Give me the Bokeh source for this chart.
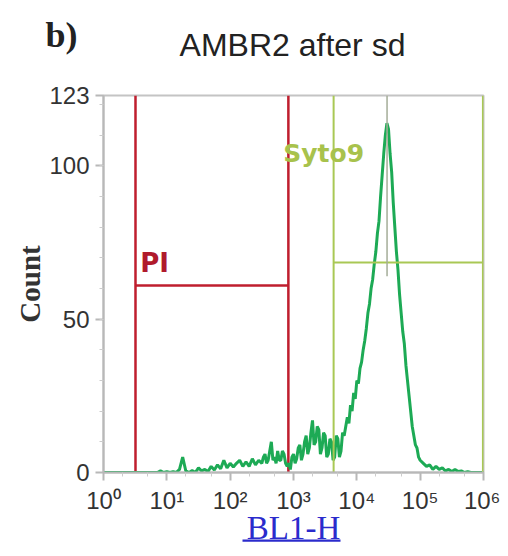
from bokeh.plotting import figure
from bokeh.models import (FixedTicker, CustomJSTickFormatter, Label, Range1d)
from bokeh.embed import file_html
from bokeh.resources import INLINE

# ---- data ----
# histogram channel positions in decades (log10 of BL1-H) and counts
log_bl1h = [0.00, 0.50, 0.85, 0.90, 0.95, 1.00, 1.05, 1.10, 1.15, 1.20, 1.25, 1.30, 1.35,
            1.40, 1.45, 1.50, 1.55, 1.60, 1.65, 1.70, 1.75, 1.80, 1.85, 1.90, 1.95,
            2.00, 2.05, 2.10, 2.15, 2.20, 2.25, 2.30, 2.35, 2.40, 2.45,
            2.500, 2.525, 2.550, 2.575, 2.600, 2.625, 2.650, 2.675, 2.700, 2.725,
            2.750, 2.775, 2.800, 2.825, 2.850, 2.875, 2.900, 2.925, 2.950, 2.975,
            3.000, 3.025, 3.050, 3.075, 3.100, 3.125, 3.150, 3.175, 3.200, 3.225,
            3.250, 3.275, 3.300, 3.325, 3.350, 3.375, 3.400, 3.425, 3.450, 3.475,
            3.500, 3.525, 3.550, 3.575, 3.600, 3.625, 3.650, 3.675, 3.700, 3.725,
            3.750, 3.775, 3.800, 3.825, 3.850, 3.875, 3.900, 3.925, 3.950, 3.975,
            4.000, 4.025, 4.050, 4.075, 4.100, 4.125, 4.150, 4.175, 4.200, 4.225,
            4.250, 4.275, 4.300, 4.325, 4.350, 4.375, 4.400, 4.425, 4.450, 4.475,
            4.500, 4.525, 4.550, 4.575, 4.600, 4.625, 4.650, 4.675, 4.700, 4.725,
            4.750, 4.775, 4.800, 4.825, 4.850, 4.875, 4.900, 4.925, 4.950, 4.975,
            5.00, 5.05, 5.10, 5.15, 5.20, 5.25, 5.30, 5.35, 5.40, 5.45, 5.50, 5.55,
            5.60, 5.65, 5.70, 5.75, 5.80, 5.90, 6.00]
counts = [0, 0, 0, 0.5, 0, 0.3, 0, 0.3, 0, 1, 5, 0.5, 0,
          0.6, 0, 1.5, 0.5, 1, 0.3, 2, 0.8, 2.5, 1.2, 4, 1.5,
          3, 1.8, 3, 4, 2, 3.5, 2, 4.5, 2.5, 4,
          3, 5, 6, 3, 4, 7, 10, 4, 5, 3,
          7, 4, 4, 7, 6, 3, 2, 3, 1, 5,
          6, 3, 4.5, 8, 9, 4, 6, 10, 12, 6,
          8, 13, 17, 9, 10, 15, 14, 6, 8, 13,
          12, 5, 6, 11, 10, 4, 5, 12, 11, 5,
          7, 13, 12, 15, 18, 16, 22, 20, 26, 24,
          30, 29, 34, 36, 40, 43, 47, 52, 55, 60,
          63, 68, 72, 78, 82, 90, 97, 104, 110, 114,
          112, 104, 98, 88, 80, 72, 66, 58, 52, 46,
          42, 35, 30, 25, 20, 15, 12, 9, 8, 5,
          4, 3, 2, 2.5, 1, 2, 1, 1.5, 0.5, 1, 0.3, 1,
          0.3, 0.5, 0, 0.3, 0, 0, 0]

# gates: (low BL1-H, high BL1-H, marker height in counts)
pi_gate = (3.2, 830, 61)
syto9_gate = (4300, 980000, 68.5)
syto9_marker_x = 30000
syto9_marker_low = 64

x_decades = [0, 1, 2, 3, 4, 5, 6]
y_ticks = [0, 50, 100, 123]

title_text = "AMBR2 after sd"
panel_letter = "b)"

bl1h = [10 ** v for v in log_bl1h]

p = figure(width=500, height=548, x_axis_type="log",
           x_range=Range1d(1, 1e6), y_range=Range1d(0, 123),
           output_backend="svg", toolbar_location=None, title=None,
           min_border_left=103, min_border_right=17,
           min_border_top=95, min_border_bottom=75)

p.background_fill_color = "white"
p.border_fill_color = "white"
p.outline_line_color = "#c4c4c4"
p.outline_line_width = 2
p.xgrid.visible = False
p.ygrid.visible = False

# axes
xa = p.xaxis[0]
xa.ticker = FixedTicker(ticks=[10 ** d for d in x_decades],
                        minor_ticks=[m * 10 ** d for d in x_decades[:-1] for m in (2, 5)])
xa.formatter = CustomJSTickFormatter(code="""
const sup = ['\u2070','\u00b9','\u00b2','\u00b3','\u2074','\u2075','\u2076'];
const e = Math.round(Math.log10(tick));
return '10' + sup[e];
""")
ya = p.yaxis[0]
ya.ticker = FixedTicker(ticks=y_ticks, minor_ticks=list(range(10, 121, 10)))

for ax in (xa, ya):
    ax.axis_line_color = "#b8b8b8"
    ax.axis_line_width = 2
    ax.major_tick_line_color = "#b8b8b8"
    ax.major_tick_line_width = 2
    ax.major_tick_out = 8
    ax.major_tick_in = 0
    ax.minor_tick_line_color = "#cccccc"
    ax.minor_tick_out = 4
    ax.minor_tick_in = 0
    ax.major_label_text_font = "Liberation Sans"
    ax.major_label_text_font_size = "24px"
    ax.major_label_text_color = "#333333"

xa.major_label_standoff = 6
ya.major_label_standoff = 6

ya.axis_label = "Count"
ya.axis_label_text_font = "Liberation Serif"
ya.axis_label_text_font_style = "bold"
ya.axis_label_text_font_size = "29px"
ya.axis_label_text_color = "#333333"
ya.axis_label_standoff = 0

xa.axis_label = "BL1-H"
xa.axis_label_text_font = "Liberation Serif"
xa.axis_label_text_font_style = "normal"
xa.axis_label_text_font_size = "33px"
xa.axis_label_text_color = "#2b2bcc"
xa.axis_label_standoff = -7

# PI gate (red)
red = "#bf1e2e"
p.line([pi_gate[0], pi_gate[0]], [0, 123], color=red, line_width=2.5)
p.line([pi_gate[1], pi_gate[1]], [0, 123], color=red, line_width=2.5)
p.line([pi_gate[0], pi_gate[1]], [pi_gate[2], pi_gate[2]], color=red, line_width=2.5)

# histogram
p.line(bl1h, counts, color="#1daa55", line_width=3)

# Syto9 gate (yellow-green)
ygreen = "#a9c855"
p.line([syto9_gate[0], syto9_gate[0]], [0, 123], color=ygreen, line_width=2)
p.line([syto9_gate[1], syto9_gate[1]], [0, 123], color=ygreen, line_width=2)
p.line([syto9_gate[0], syto9_gate[1]], [syto9_gate[2], syto9_gate[2]], color=ygreen, line_width=2)
p.line([syto9_marker_x, syto9_marker_x], [syto9_marker_low, 123], color="#a4ad98", line_width=1.5)

p.add_layout(Label(x=3.8, y=63.5, text="PI", text_font="DejaVu Sans",
                   text_font_style="bold", text_font_size="26px",
                   text_color="#b01a2c", text_baseline="bottom"))
p.add_layout(Label(x=690, y=104, text="Syto9", text_font="DejaVu Sans",
                   text_font_style="bold", text_font_size="25px",
                   text_color="#a8c24c", text_baseline="middle"))

# title and panel letter (in the side panel, so they are not clipped to the frame)
p.add_layout(Label(x=292, y=44, x_units="canvas", y_units="canvas", text=title_text,
                   text_font="Liberation Sans", text_font_style="normal",
                   text_font_size="32px", text_color="#222222",
                   text_align="center", text_baseline="middle"), "above")
p.add_layout(Label(x=61, y=34, x_units="canvas", y_units="canvas", text=panel_letter,
                   text_font="Liberation Serif", text_font_style="bold",
                   text_font_size="36px", text_color="#222222",
                   text_align="center", text_baseline="middle"), "above")

# underline of the x-axis label: a thin filled strip (blank text box)
p.add_layout(Label(x=242, y=539, x_units="canvas", y_units="canvas",
                   text="\u2003" * 49, text_font="Liberation Serif",
                   text_font_size="2px", text_color="#2b2bcc",
                   background_fill_color="#2b2bcc", background_fill_alpha=1,
                   text_align="left", text_baseline="top"), "above")

open("out.html", "w").write(file_html(p, INLINE))
